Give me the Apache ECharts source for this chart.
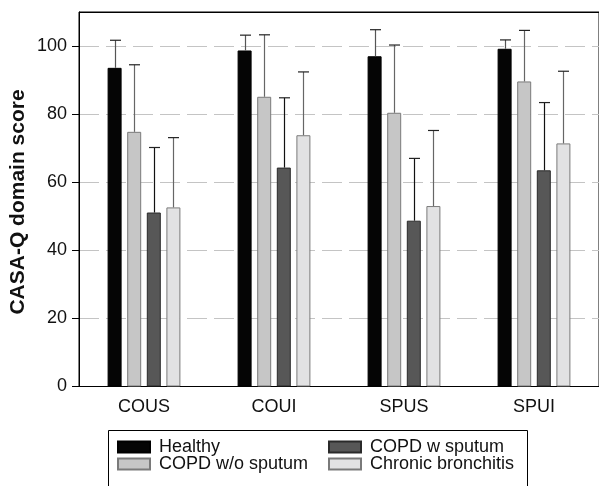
<!DOCTYPE html>
<html>
<head>
<meta charset="utf-8">
<script src="https://cdn.jsdelivr.net/npm/echarts@6/dist/echarts.min.js"></script>
<style>
  html, body { margin: 0; padding: 0; background: #fff; }
  #chart { width: 599px; height: 486px; }
</style>
</head>
<body>
<div id="chart"></div>
<script>
// CASA-Q domains on the x axis
var categories = ['COUS', 'COUI', 'SPUS', 'SPUI'];

// Group names, in drawing order
var groups = ['Healthy', 'COPD w/o sputum', 'COPD w sputum', 'Chronic bronchitis'];

// Mean domain scores per group
var healthyMean    = [93.6, 98.7, 97.0, 99.2];
var noSputumMean   = [74.8, 85.1, 80.4, 89.6];
var sputumMean     = [51.1, 64.3, 48.7, 63.5];
var bronchitisMean = [52.6, 73.8, 53.0, 71.4];

// Upper end of the error bar (mean + SD)
var healthyUpper    = [101.7, 103.2, 104.8, 101.8];
var noSputumUpper   = [94.5, 103.3, 100.3, 104.6];
var sputumUpper     = [70.2, 84.8, 67.0, 83.4];
var bronchitisUpper = [73.1, 92.4, 75.2, 92.6];

var yTicks = [0, 20, 40, 60, 80, 100];

var means = [healthyMean, noSputumMean, sputumMean, bronchitisMean];
var uppers = [healthyUpper, noSputumUpper, sputumUpper, bronchitisUpper];

var fills     = ['#050505', '#c6c6c6', '#575757', '#e2e2e3'];
var borders   = ['#000000', '#7a7a7a', '#2a2a2a', '#7a7a7a'];
var errColors = ['#555555', '#666666', '#111111', '#666666'];

var FONT = '"Liberation Sans", Arial, sans-serif';
var BAR_W = 14;
var BAR_GAP = 0.4;
var STEP = BAR_W * (1 + BAR_GAP);

var series = [];
groups.forEach(function (name, i) {
  series.push({
    name: name,
    type: 'bar',
    data: means[i],
    barWidth: BAR_W,
    barGap: (BAR_GAP * 100) + '%',
    itemStyle: { color: fills[i], borderColor: borders[i], borderWidth: 1 },
    z: 2
  });
});

// Error bars: a stem from the bar top up to mean + SD, with a cap
groups.forEach(function (name, i) {
  var errData = categories.map(function (c, k) { return [k, means[i][k], uppers[i][k]]; });
  series.push({
    type: 'custom',
    name: name + ' SD',
    data: errData,
    z: 3,
    silent: true,
    renderItem: function (params, api) {
      var k = api.value(0);
      var lo = api.coord([k, api.value(1)]);
      var hi = api.coord([k, api.value(2)]);
      var x = Math.round(lo[0] + (i - 1.5) * STEP) + 0.5;
      var half = 5.5;
      return {
        type: 'group',
        children: [
          { type: 'line', shape: { x1: x, y1: lo[1], x2: x, y2: hi[1] },
            style: { stroke: errColors[i], lineWidth: 1.2 } },
          { type: 'line', shape: { x1: x - half, y1: hi[1], x2: x + half, y2: hi[1] },
            style: { stroke: '#222', lineWidth: 1.2 } }
        ]
      };
    },
    encode: { x: 0, y: [1, 2] }
  });
});

// Legend: four single-item legends on a 2x2 layout
var legendPos = [
  { left: 117, top: 438 },
  { left: 117, top: 455 },
  { left: 328, top: 438 },
  { left: 328, top: 455 }
];
var legends = groups.map(function (name, i) {
  return {
    data: [{ name: name, icon: 'rect' }],
    left: legendPos[i].left,
    top: legendPos[i].top,
    padding: 0,
    itemWidth: 32,
    itemHeight: 11,
    selectedMode: false,
    textStyle: { fontFamily: FONT, fontSize: 18, color: '#111', padding: [0, 0, 0, 4] }
  };
});

var chart = echarts.init(document.getElementById('chart'), null, { renderer: 'canvas' });
chart.setOption({
  animation: false,
  backgroundColor: '#fff',
  grid: { left: 79, right: 0, top: 12, height: 374.5, show: true, borderColor: '#000', borderWidth: 1, backgroundColor: 'transparent' },
  legend: legends,
  xAxis: {
    type: 'category',
    data: categories,
    axisLine: { lineStyle: { color: '#000', width: 1 } },
    axisTick: { alignWithLabel: true, length: 5, lineStyle: { color: '#000' } },
    axisLabel: { color: '#111', fontSize: 18, fontFamily: FONT, margin: 12 }
  },
  yAxis: {
    type: 'value',
    min: 0,
    max: 110,
    interval: 20,
    axisLine: { show: true, lineStyle: { color: '#000', width: 1 } },
    axisTick: { show: true, length: 7, lineStyle: { color: '#000' } },
    axisLabel: {
      color: '#111', fontSize: 18, fontFamily: FONT, margin: 12,
      showMaxLabel: false,
      formatter: function (v) { return yTicks.indexOf(v) >= 0 ? String(v) : ''; }
    },
    splitLine: { show: true, lineStyle: { color: '#c4c4c4', type: [20, 7], width: 1 } }
  },
  graphic: [
    {
      type: 'text',
      rotation: Math.PI / 2,
      x: 18, y: 202,
      style: {
        text: 'CASA-Q domain score',
        font: 'bold 21px ' + FONT,
        fill: '#111',
        textAlign: 'center',
        textVerticalAlign: 'middle'
      }
    },
    {
      // solid top edge of the plot frame, drawn above the gridlines
      type: 'line',
      shape: { x1: 79, y1: 12.5, x2: 599, y2: 12.5 },
      style: { stroke: '#000', lineWidth: 1 },
      z: 100
    },
    {
      type: 'rect',
      shape: { x: 108.5, y: 430.5, width: 419, height: 70 },
      style: { fill: 'none', stroke: '#000', lineWidth: 1 },
      z: -1
    }
  ],
  series: series
});
</script>
</body>
</html>
